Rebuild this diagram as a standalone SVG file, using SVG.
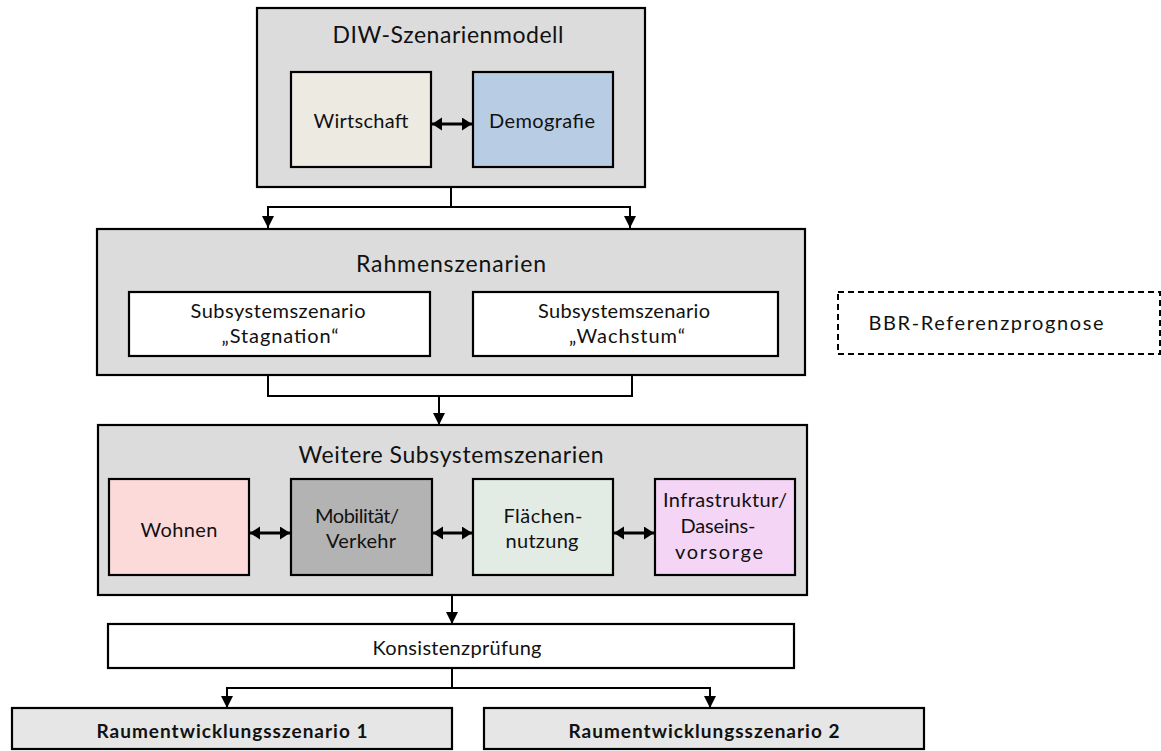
<svg xmlns="http://www.w3.org/2000/svg" width="1161" height="751" viewBox="0 0 1161 751">
<defs>
<style>
.box{stroke:#000;stroke-width:2.2}
.outer{fill:#dcdcdc}
.t{font-family:Lato,"Liberation Sans",sans-serif;fill:#111;text-anchor:middle}
.big{font-size:23px}
.mid{font-size:20px}
.bold{font-weight:bold;font-size:19px}
.con{fill:none;stroke:#000;stroke-width:2}
.bi{fill:none;stroke:#000;stroke-width:3}
</style>
<marker id="ah" markerUnits="userSpaceOnUse" markerWidth="13" markerHeight="13" refX="12" refY="6" orient="auto"><path d="M0,0 L12,6 L0,12 z" fill="#000"/></marker>
<marker id="bh" markerUnits="userSpaceOnUse" markerWidth="13" markerHeight="14" refX="10" refY="6.5" orient="auto-start-reverse"><path d="M0,0 L10,6.5 L0,13 z" fill="#000"/></marker>
</defs>
<rect width="1161" height="751" fill="#fff"/>

<g id="diw">
<rect class="box outer" x="257" y="8" width="388" height="179"/>
<text class="t big" x="448" y="43" textLength="231" lengthAdjust="spacing">DIW-Szenarienmodell</text>
</g>
<g id="wirtschaft">
<rect class="box" fill="#edebe1" x="291" y="72" width="140" height="95"/>
<text class="t mid" x="361" y="128" textLength="95" lengthAdjust="spacing">Wirtschaft</text>
</g>
<g id="demografie">
<rect class="box" fill="#b8cce4" x="473" y="72" width="140" height="95"/>
<text class="t mid" x="542" y="128" textLength="106" lengthAdjust="spacing">Demografie</text>
</g>

<g id="rahmen">
<rect class="box outer" x="97" y="229" width="708" height="146"/>
<text class="t big" x="451" y="272" textLength="190" lengthAdjust="spacing">Rahmenszenarien</text>
</g>
<g id="stagnation">
<rect class="box" fill="#fff" x="129" y="292" width="301" height="64"/>
<text class="t mid" x="278" y="318" textLength="175" lengthAdjust="spacing">Subsystemszenario</text>
<text class="t mid" x="280" y="343" textLength="117" lengthAdjust="spacing">„Stagnation“</text>
</g>
<g id="wachstum">
<rect class="box" fill="#fff" x="473" y="292" width="305" height="64"/>
<text class="t mid" x="624" y="318" textLength="172" lengthAdjust="spacing">Subsystemszenario</text>
<text class="t mid" x="627" y="343" textLength="116" lengthAdjust="spacing">„Wachstum“</text>
</g>

<g id="bbr">
<rect x="838" y="292" width="322" height="62" fill="#fff" stroke="#000" stroke-width="2" stroke-dasharray="6,4"/>
<text class="t mid" x="986" y="330" textLength="235" lengthAdjust="spacing">BBR-Referenzprognose</text>
</g>

<g id="weitere">
<rect class="box outer" x="98" y="425" width="709" height="170"/>
<text class="t big" x="451" y="463" textLength="305" lengthAdjust="spacing">Weitere Subsystemszenarien</text>
</g>
<g id="wohnen">
<rect class="box" fill="#fddada" x="109" y="479" width="140" height="96"/>
<text class="t mid" x="179" y="537" textLength="77" lengthAdjust="spacing">Wohnen</text>
</g>
<g id="mobilitaet">
<rect class="box" fill="#b3b3b3" x="291" y="479" width="141" height="96"/>
<text class="t mid" x="357" y="523" textLength="84" lengthAdjust="spacing">Mobilität/</text>
<text class="t mid" x="361" y="548" textLength="70" lengthAdjust="spacing">Verkehr</text>
</g>
<g id="flaechen">
<rect class="box" fill="#e3ebe5" x="473" y="479" width="140" height="96"/>
<text class="t mid" x="543" y="523" textLength="79" lengthAdjust="spacing">Flächen-</text>
<text class="t mid" x="542" y="548" textLength="73" lengthAdjust="spacing">nutzung</text>
</g>
<g id="infrastruktur">
<rect class="box" fill="#f4d5f5" x="655" y="479" width="140" height="96"/>
<text class="t mid" x="725" y="507" textLength="124" lengthAdjust="spacing">Infrastruktur/</text>
<text class="t mid" x="718" y="533" textLength="75" lengthAdjust="spacing">Daseins-</text>
<text class="t mid" x="719" y="559" textLength="88" lengthAdjust="spacing">vorsorge</text>
</g>

<g id="konsistenz">
<rect class="box" fill="#fff" x="108" y="624" width="686" height="44"/>
<text class="t mid" x="457" y="655" textLength="169" lengthAdjust="spacing">Konsistenzprüfung</text>
</g>
<g id="raum1">
<rect class="box" fill="#e6e6e6" x="12" y="708" width="440" height="41"/>
<text class="t bold" x="232" y="738" textLength="271" lengthAdjust="spacing">Raumentwicklungsszenario 1</text>
</g>
<g id="raum2">
<rect class="box" fill="#e6e6e6" x="484" y="708" width="440" height="41"/>
<text class="t bold" x="704" y="738" textLength="271" lengthAdjust="spacing">Raumentwicklungsszenario 2</text>
</g>

<g id="connectors">
<path class="con" d="M451,187 V207 H268 V228" marker-end="url(#ah)"/>
<path class="con" d="M451,207 H630 V228" marker-end="url(#ah)"/>
<path class="con" d="M268,375 V396 H632 V375"/>
<path class="con" d="M439,396 V425" marker-end="url(#ah)"/>
<path class="con" d="M452,595 V624" marker-end="url(#ah)"/>
<path class="con" d="M452,668 V688 H227 V708" marker-end="url(#ah)"/>
<path class="con" d="M452,688 H710 V708" marker-end="url(#ah)"/>
<path class="bi" d="M432,124 H472" marker-start="url(#bh)" marker-end="url(#bh)"/>
<path class="bi" d="M250,533 H290" marker-start="url(#bh)" marker-end="url(#bh)"/>
<path class="bi" d="M433,533 H472" marker-start="url(#bh)" marker-end="url(#bh)"/>
<path class="bi" d="M614,533 H654" marker-start="url(#bh)" marker-end="url(#bh)"/>
</g>
</svg>
